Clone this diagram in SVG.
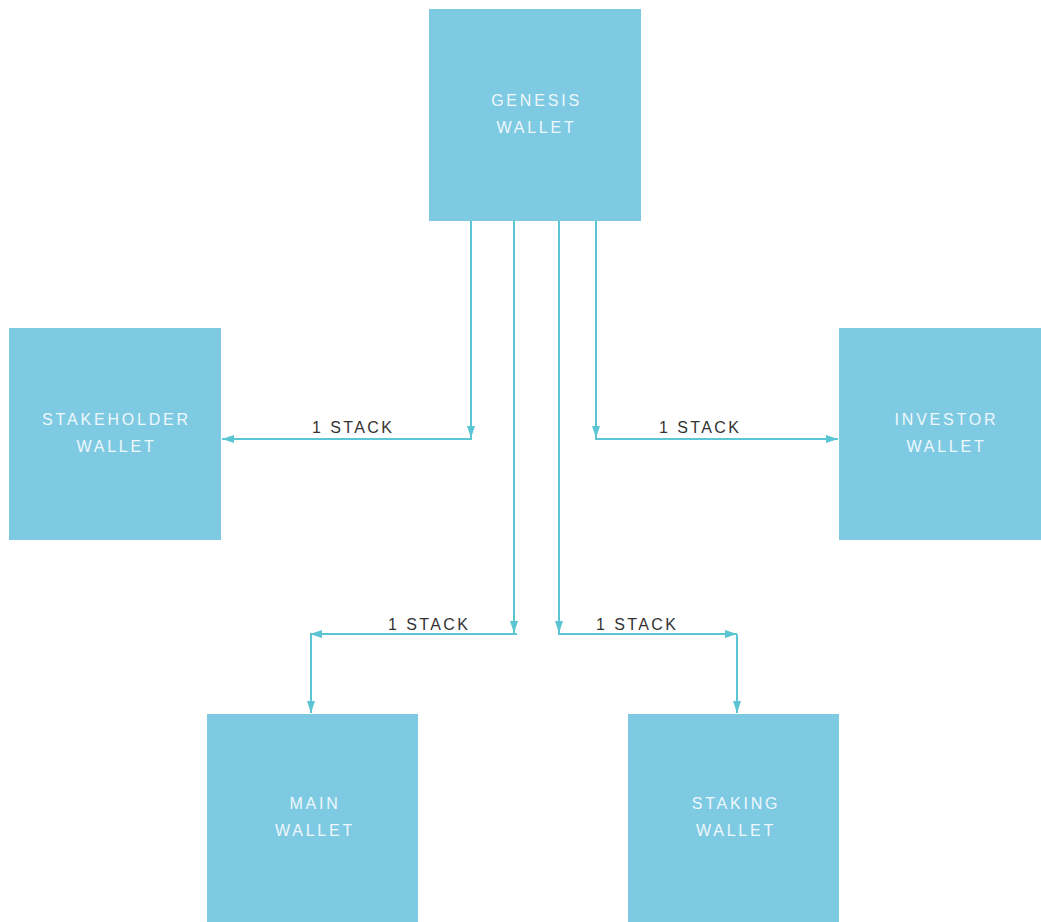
<svg xmlns="http://www.w3.org/2000/svg" width="1041" height="922" viewBox="0 0 1041 922">
<defs>
<marker id="ah" viewBox="0 0 12 8" refX="12" refY="4" markerWidth="12" markerHeight="8" markerUnits="userSpaceOnUse" orient="auto">
<path d="M0,0 L12,4 L0,8 Z" fill="#5cc5d3"/>
</marker>
<style>
.box{fill:#7fcae3}
.bt{font-family:"Liberation Sans","DejaVu Sans",sans-serif;font-size:16px;letter-spacing:2.8px;fill:#eef8fc;text-anchor:middle}
.lb{font-family:"Liberation Sans","DejaVu Sans",sans-serif;font-size:16px;letter-spacing:2.4px;fill:#333}
.ln{fill:none;stroke:#5cc5d3;stroke-width:2}
</style>
</defs>
<rect width="1041" height="922" fill="#fff"/>
<g id="genesis">
<rect class="box" x="429" y="9" width="212" height="212"/>
<text class="bt" x="536.5" y="106">GENESIS</text>
<text class="bt" x="536.5" y="133">WALLET</text>
</g>
<g id="stakeholder">
<rect class="box" x="9" y="328" width="212" height="212"/>
<text class="bt" x="116.5" y="425">STAKEHOLDER</text>
<text class="bt" x="116.5" y="452">WALLET</text>
</g>
<g id="investor">
<rect class="box" x="839" y="328" width="212" height="212"/>
<text class="bt" x="946.5" y="425">INVESTOR</text>
<text class="bt" x="946.5" y="452">WALLET</text>
</g>
<g id="main">
<rect class="box" x="207" y="714" width="211" height="212"/>
<text class="bt" x="315" y="809">MAIN</text>
<text class="bt" x="315" y="836">WALLET</text>
</g>
<g id="staking">
<rect class="box" x="628" y="714" width="211" height="212"/>
<text class="bt" x="736" y="809">STAKING</text>
<text class="bt" x="736" y="836">WALLET</text>
</g>
<g id="connectors">
<line class="ln" x1="471" y1="221" x2="471" y2="438" marker-end="url(#ah)"/>
<line class="ln" x1="472" y1="439" x2="222" y2="439" marker-end="url(#ah)"/>
<line class="ln" x1="596" y1="221" x2="596" y2="438" marker-end="url(#ah)"/>
<line class="ln" x1="595" y1="439" x2="838" y2="439" marker-end="url(#ah)"/>
<line class="ln" x1="514" y1="221" x2="514" y2="633" marker-end="url(#ah)"/>
<polyline class="ln" points="517,634 311,634 311,713" marker-end="url(#ah)"/>
<line class="ln" x1="311" y1="634" x2="310" y2="634" marker-end="url(#ah)"/>
<line class="ln" x1="559" y1="221" x2="559" y2="633" marker-end="url(#ah)"/>
<line class="ln" x1="558" y1="634" x2="737" y2="634" marker-end="url(#ah)"/>
<line class="ln" x1="737" y1="634" x2="737" y2="713" marker-end="url(#ah)"/>
<text class="lb" x="312" y="433">1 STACK</text>
<text class="lb" x="659" y="433">1 STACK</text>
<text class="lb" x="388" y="630">1 STACK</text>
<text class="lb" x="596" y="630">1 STACK</text>
</g>
</svg>
